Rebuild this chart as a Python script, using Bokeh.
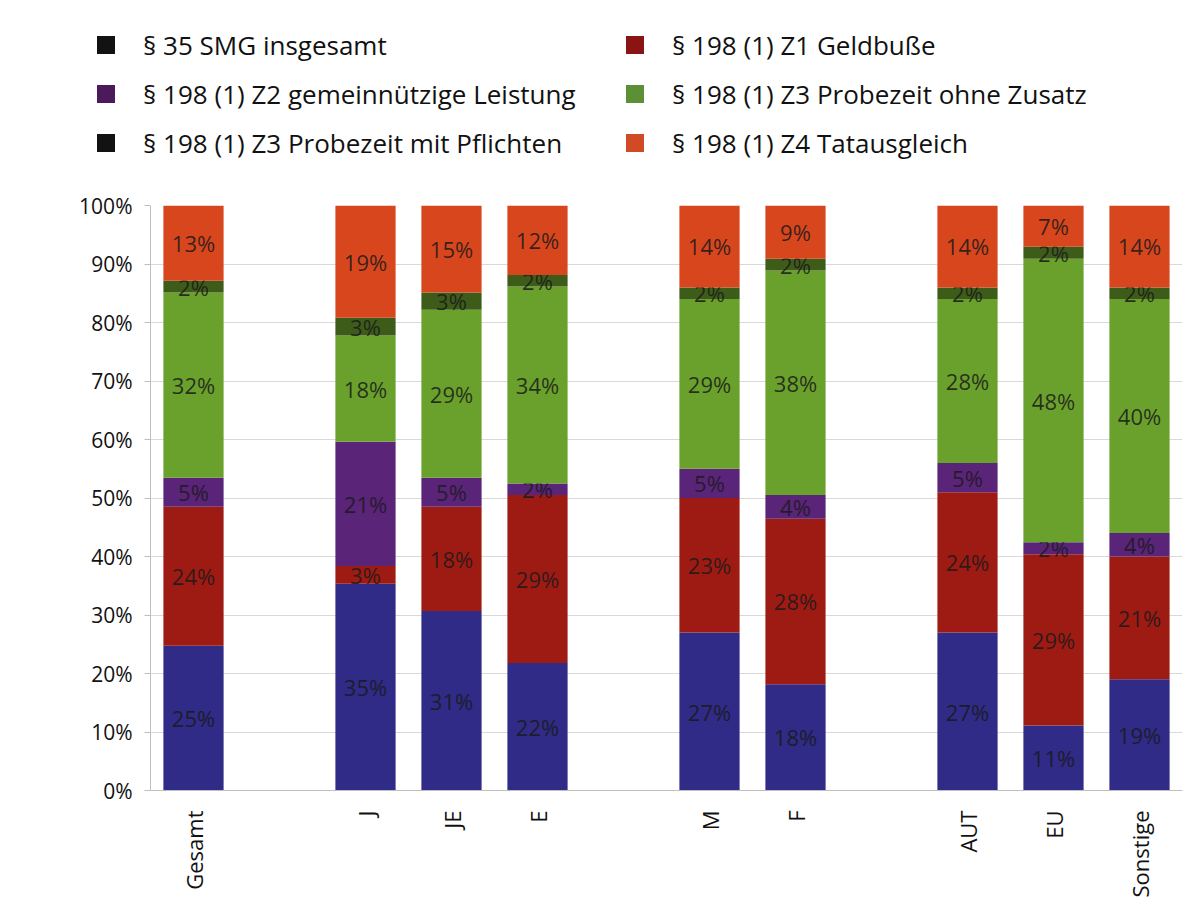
import math
from bokeh.plotting import figure
from bokeh.layouts import column
from bokeh.models import ColumnDataSource, NumeralTickFormatter, FixedTicker, Range1d, Div
from bokeh.core.properties import value
from bokeh.embed import file_html
from bokeh.resources import INLINE

# ---- data ----
groups = [["Gesamt"], ["J", "JE", "E"], ["M", "F"], ["AUT", "EU", "Sonstige"]]
series = [
    "§ 35 SMG insgesamt",
    "§ 198 (1) Z1 Geldbuße",
    "§ 198 (1) Z2 gemeinnützige Leistung",
    "§ 198 (1) Z3 Probezeit ohne Zusatz",
    "§ 198 (1) Z3 Probezeit mit Pflichten",
    "§ 198 (1) Z4 Tatausgleich",
]
smg35 = [25, 35, 31, 22, 27, 18, 27, 11, 19]
z1_geldbusse = [24, 3, 18, 29, 23, 28, 24, 29, 21]
z2_gemeinnuetzig = [5, 21, 5, 2, 5, 4, 5, 2, 4]
z3_ohne = [32, 18, 29, 34, 29, 38, 28, 48, 40]
z3_mit = [2, 3, 3, 2, 2, 2, 2, 2, 2]
z4_tatausgleich = [13, 19, 15, 12, 14, 9, 14, 7, 14]
y_ticks = [0, 0.1, 0.2, 0.3, 0.4, 0.5, 0.6, 0.7, 0.8, 0.9, 1.0]

values = [smg35, z1_geldbusse, z2_gemeinnuetzig, z3_ohne, z3_mit, z4_tatausgleich]
bar_colors = ["#2f2b86", "#9e1b14", "#5a2479", "#6aa02c", "#3e5c19", "#d8461e"]
legend_colors = ["#121212", "#8a1414", "#4a1a5a", "#5b9134", "#121212", "#d04a25"]
FONT = "Open Sans"

# positions: one empty slot between groups
cats, xs = [], []
pos = 0
for g in groups:
    for c in g:
        cats.append(c)
        xs.append(pos)
        pos += 1
    pos += 1
n_slots = pos - 1

totals = [sum(v[i] for v in values) for i in range(len(cats))]

# ---- legend strip (HTML, two columns, row-major) ----
LEG_H = 190
col_left = [97, 626]
parts = []
for i, (name, col) in enumerate(zip(series, legend_colors)):
    cx = col_left[i % 2]
    cy = 45 + (i // 2) * 49
    parts.append(f'<div style="position:absolute;left:{cx}px;top:{cy - 9}px;width:18px;height:18px;background:{col};"></div>')
    parts.append(f'<div style="position:absolute;left:{cx + 46}px;top:{cy - 18}px;line-height:36px;white-space:nowrap;">{name}</div>')
legend_html = (f'<div style="position:relative;width:1185px;height:{LEG_H}px;'
               f'font-family:\'{FONT}\';font-size:26px;color:#111111;">' + "".join(parts) + '</div>')
leg = Div(text=legend_html, width=1185, height=LEG_H, margin=0)

# ---- main chart ----
p = figure(width=1185, height=900 - LEG_H, output_backend="svg", toolbar_location=None,
           x_range=Range1d(-0.5, n_slots - 0.5), y_range=Range1d(0, 1),
           min_border_top=205 - LEG_H, min_border_left=150, min_border_right=3, min_border_bottom=104)
p.margin = 0
p.outline_line_color = None
p.xgrid.grid_line_color = None
p.ygrid.grid_line_color = "#d9d9d9"
p.ygrid.ticker = FixedTicker(ticks=y_ticks)

cum = [0.0] * len(cats)
for si, v in enumerate(values):
    bottoms = list(cum)
    tops = [cum[i] + v[i] / totals[i] for i in range(len(cats))]
    cum = tops
    src = ColumnDataSource(dict(
        x=xs, bottom=bottoms, top=tops,
        mid=[(b + t) / 2 for b, t in zip(bottoms, tops)],
        lab=[f"{val}%" for val in v],
    ))
    p.vbar(x="x", width=0.7, bottom="bottom", top="top", source=src,
           fill_color=bar_colors[si], line_color=None, legend_label=series[si])
    p.text(x="x", y="mid", text="lab", source=src, text_align="center",
           text_baseline="middle", text_font=value(FONT), text_font_size="22px",
           text_color="#1a1a1a", text_alpha=0.85)
p.legend.visible = False

ya = p.yaxis[0]
ya.ticker = FixedTicker(ticks=y_ticks)
ya.formatter = NumeralTickFormatter(format="0%")
ya.axis_line_color = "#bfbfbf"
ya.major_tick_line_color = "#bfbfbf"
ya.major_tick_out = 6
ya.major_tick_in = 0
ya.minor_tick_line_color = None
ya.major_label_standoff = 12
ya.major_label_text_font = FONT
ya.major_label_text_font_size = "21px"
ya.major_label_text_color = "#111111"

xa = p.xaxis[0]
xa.ticker = FixedTicker(ticks=xs)
xa.major_label_overrides = {x: c for x, c in zip(xs, cats)}
xa.major_label_orientation = math.pi / 2
xa.axis_line_color = "#bfbfbf"
xa.major_tick_line_color = None
xa.minor_tick_line_color = None
xa.major_label_standoff = 14
xa.major_label_text_font = FONT
xa.major_label_text_font_size = "22px"
xa.major_label_text_color = "#111111"

layout = column(leg, p, spacing=0)
open("out.html", "w").write(file_html(layout, INLINE))
